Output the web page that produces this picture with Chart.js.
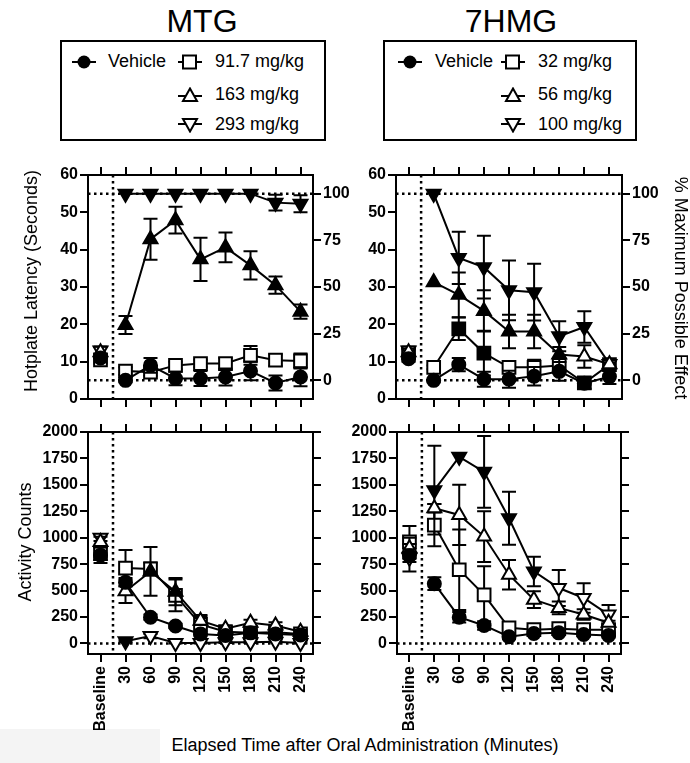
<!DOCTYPE html>
<html>
<head>
<meta charset="utf-8">
<script src="https://cdn.jsdelivr.net/npm/chart.js@4.4.1/dist/chart.umd.min.js"></script>
<style>
  body { margin: 0; background: #fff; width: 690px; height: 763px; position: relative; overflow: hidden;
         font-family: 'Liberation Sans', Arial, sans-serif; color: #000; }
  canvas { position: absolute; }
  .t { position: absolute; white-space: nowrap; }
  .title { font-size: 32px; transform: translateX(-50%); top: 3px; }
  .legend { position: absolute; border: 2px solid #000; box-sizing: border-box; top: 40px; height: 101px; }
  .lg { position: absolute; font-size: 18px; white-space: nowrap; }
  .mk { position: absolute; }
  .rot { position: absolute; font-size: 18px; white-space: nowrap; transform-origin: center center; }
</style>
</head>
<body>
<div style="position:absolute;left:0;top:729px;width:160px;height:34px;background:#f4f4f4"></div>

<div class="t title" style="left:202px">MTG</div>
<div class="t title" style="left:511px">7HMG</div>

<div class="legend" style="left:60px;width:266px">
  <svg class="mk" style="left:10px;top:12px" width="24" height="16"><line x1="0" y1="8" x2="24" y2="8" stroke="#000" stroke-width="2"/><circle cx="12" cy="8" r="6.5" fill="#000"/></svg>
  <span class="lg" style="left:46px;top:9px">Vehicle</span>
  <svg class="mk" style="left:116px;top:12px" width="24" height="16"><line x1="0" y1="8" x2="24" y2="8" stroke="#000" stroke-width="2"/><rect x="5" y="1.5" width="13" height="13" fill="#fff" stroke="#000" stroke-width="2"/></svg>
  <span class="lg" style="left:153px;top:9px">91.7 mg/kg</span>
  <svg class="mk" style="left:116px;top:45px" width="24" height="16"><line x1="0" y1="9" x2="24" y2="9" stroke="#000" stroke-width="2"/><polygon points="12,1.5 19,14 5,14" fill="#fff" stroke="#000" stroke-width="2"/></svg>
  <span class="lg" style="left:153px;top:42px">163 mg/kg</span>
  <svg class="mk" style="left:116px;top:75px" width="24" height="16"><line x1="0" y1="7" x2="24" y2="7" stroke="#000" stroke-width="2"/><polygon points="5,2 19,2 12,14.5" fill="#fff" stroke="#000" stroke-width="2"/></svg>
  <span class="lg" style="left:153px;top:72px">293 mg/kg</span>
</div>

<div class="legend" style="left:383px;width:254px">
  <svg class="mk" style="left:13px;top:12px" width="24" height="16"><line x1="0" y1="8" x2="24" y2="8" stroke="#000" stroke-width="2"/><circle cx="12" cy="8" r="6.5" fill="#000"/></svg>
  <span class="lg" style="left:50px;top:9px">Vehicle</span>
  <svg class="mk" style="left:116px;top:12px" width="24" height="16"><line x1="0" y1="8" x2="24" y2="8" stroke="#000" stroke-width="2"/><rect x="5" y="1.5" width="13" height="13" fill="#fff" stroke="#000" stroke-width="2"/></svg>
  <span class="lg" style="left:153px;top:9px">32 mg/kg</span>
  <svg class="mk" style="left:116px;top:45px" width="24" height="16"><line x1="0" y1="9" x2="24" y2="9" stroke="#000" stroke-width="2"/><polygon points="12,1.5 19,14 5,14" fill="#fff" stroke="#000" stroke-width="2"/></svg>
  <span class="lg" style="left:153px;top:42px">56 mg/kg</span>
  <svg class="mk" style="left:116px;top:75px" width="24" height="16"><line x1="0" y1="7" x2="24" y2="7" stroke="#000" stroke-width="2"/><polygon points="5,2 19,2 12,14.5" fill="#fff" stroke="#000" stroke-width="2"/></svg>
  <span class="lg" style="left:153px;top:72px">100 mg/kg</span>
</div>

<canvas id="mtgHot" width="360" height="270" style="left:0;top:150px"></canvas>
<canvas id="hmgHot" width="310" height="270" style="left:350px;top:150px"></canvas>
<canvas id="mtgAct" width="360" height="320" style="left:0;top:410px"></canvas>
<canvas id="hmgAct" width="310" height="320" style="left:350px;top:410px"></canvas>

<div class="rot" style="left:31px;top:281px;transform:translate(-50%,-50%) rotate(-90deg)">Hotplate Latency (Seconds)</div>
<div class="rot" style="left:25px;top:542px;transform:translate(-50%,-50%) rotate(-90deg)">Activity Counts</div>
<div class="rot" style="left:680px;top:288px;transform:translate(-50%,-50%) rotate(90deg)">% Maximum Possible Effect</div>
<div class="t" style="left:365px;top:745px;font-size:18px;transform:translate(-50%,-50%)">Elapsed Time after Oral Administration (Minutes)</div>

<script>
const timeLabels = ['Baseline', '30', '60', '90', '120', '150', '180', '210', '240'];
const hotTicks = [0, 10, 20, 30, 40, 50, 60];
const mpeTicks = [0, 25, 50, 75, 100];
const actTicks = [0, 250, 500, 750, 1000, 1250, 1500, 1750, 2000];

// MTG hotplate latency (s), index 0 = baseline; Sig = filled marker
const mtgHotVeh    = [11.0, 5.0, 9.0, 5.5, 5.5, 5.9, 7.5, 4.3, 5.9];
const mtgHotVehErr = [1.0, 0.5, 2.0, 1.8, 2.0, 2.3, 2.5, 2.0, 2.5];
const mtgHotVehSig = [1, 1, 1, 1, 1, 1, 1, 1, 1];
const mtgHot92     = [10.5, 7.5, 7.2, 9.0, 9.5, 9.5, 11.7, 10.4, 10.2];
const mtgHot92Err  = [1.0, 1.0, 1.0, 1.0, 1.0, 1.5, 2.5, 1.5, 2.0];
const mtgHot92Sig  = [0, 0, 0, 0, 0, 0, 0, 0, 0];
const mtgHot163    = [12.5, 19.8, 42.8, 47.9, 37.4, 40.6, 35.8, 30.5, 23.4];
const mtgHot163Err = [1.5, 2.4, 5.5, 3.6, 5.8, 4.0, 3.8, 2.3, 1.9];
const mtgHot163Sig = [0, 1, 1, 1, 1, 1, 1, 1, 1];
const mtgHot293    = [13.0, 55, 55, 55, 55, 55, 55, 52.6, 52.3];
const mtgHot293Err = [1.0, 0, 0, 0, 0, 0, 0, 2.1, 2.3];
const mtgHot293Sig = [0, 1, 1, 1, 1, 1, 1, 1, 1];

// 7HMG hotplate latency (s)
const hmgHotVeh    = [10.8, 5.0, 9.2, 5.3, 5.3, 6.1, 7.4, 4.2, 6.0];
const hmgHotVehErr = [0.8, 0.5, 1.8, 2.0, 2.3, 2.5, 2.5, 1.5, 2.0];
const hmgHotVehSig = [1, 1, 1, 1, 1, 1, 1, 1, 1];
const hmgHot32     = [12.3, 8.5, 18.8, 12.3, 8.5, 8.5, 9.0, 4.3, 9.2];
const hmgHot32Err  = [1.0, 0.5, 3.0, 6.0, 1.5, 2.0, 2.0, 1.5, 1.0];
const hmgHot32Sig  = [0, 0, 1, 1, 0, 0, 0, 0, 0];
const hmgHot56     = [12.5, 31.3, 27.9, 23.6, 18.1, 18.1, 11.9, 11.4, 9.3];
const hmgHot56Err  = [1.0, 0, 6.0, 5.5, 4.5, 4.5, 2.0, 3.0, 1.0];
const hmgHot56Sig  = [0, 1, 1, 1, 1, 1, 1, 0, 0];
const hmgHot100    = [13.0, 55, 37.8, 35.3, 29.1, 28.6, 16.8, 19.3, 9.4];
const hmgHot100Err = [1.0, 0, 7.0, 8.4, 8.0, 7.6, 4.0, 4.2, 1.0];
const hmgHot100Sig = [0, 1, 1, 1, 1, 1, 1, 1, 0];

// MTG activity counts
const mtgActVeh    = [835, 578, 248, 165, 90, 75, 100, 90, 80];
const mtgActVehErr = [75, 40, 25, 20, 15, 15, 15, 15, 10];
const mtgActVehSig = [1, 1, 1, 1, 1, 1, 1, 1, 1];
const mtgAct92     = [850, 713, 705, 455, 180, 110, 100, 105, 90];
const mtgAct92Err  = [60, 170, 60, 150, 90, 30, 30, 30, 20];
const mtgAct92Sig  = [0, 0, 0, 0, 0, 0, 0, 0, 0];
const mtgAct163    = [960, 493, 681, 490, 215, 140, 195, 170, 110];
const mtgAct163Err = [50, 110, 230, 130, 40, 30, 30, 30, 20];
const mtgAct163Sig = [0, 0, 1, 1, 0, 0, 0, 0, 0];
const mtgAct293    = [1000, 20, 70, 5, 5, 10, 10, 15, 5];
const mtgAct293Err = [30, 10, 20, 5, 5, 5, 5, 5, 5];
const mtgAct293Sig = [0, 1, 0, 0, 0, 0, 0, 0, 0];

// 7HMG activity counts
const hmgActVeh    = [830, 565, 248, 170, 63, 94, 100, 85, 75];
const hmgActVehErr = [60, 60, 50, 40, 20, 20, 20, 20, 20];
const hmgActVehSig = [1, 1, 1, 1, 1, 1, 1, 1, 1];
const hmgAct32     = [960, 1120, 697, 460, 148, 130, 140, 130, 130];
const hmgAct32Err  = [150, 200, 380, 270, 30, 25, 25, 25, 25];
const hmgAct32Sig  = [0, 0, 0, 0, 0, 0, 0, 0, 0];
const hmgAct56     = [900, 1278, 1215, 1011, 650, 414, 336, 273, 195];
const hmgAct56Err  = [100, 40, 285, 240, 140, 80, 60, 50, 20];
const hmgAct56Sig  = [0, 0, 0, 0, 0, 0, 0, 0, 0];
const hmgAct100    = [810, 1450, 1765, 1623, 1184, 681, 524, 430, 273];
const hmgAct100Err = [130, 420, 0, 340, 250, 140, 170, 140, 90];
const hmgAct100Sig = [0, 1, 1, 1, 1, 1, 0, 0, 0];

const FONT = { family: "'Liberation Sans', Arial, sans-serif", size: 16, weight: 'bold' };

const errorBars = {
    id: 'errorBars',
    beforeDatasetDraw(chart, args) {
        const ds = chart.data.datasets[args.index];
        if (!ds.errors) return;
        const ctx = chart.ctx;
        const y = chart.scales.y;
        ctx.save();
        ctx.strokeStyle = '#000';
        ctx.lineWidth = 2;
        ctx.setLineDash([]);
        args.meta.data.forEach((pt, i) => {
            const e = ds.errors[i];
            if (!e) return;
            const v = ds.data[i].y;
            const top = y.getPixelForValue(v + e);
            const bot = y.getPixelForValue(v - e);
            ctx.beginPath();
            ctx.moveTo(pt.x, top); ctx.lineTo(pt.x, bot);
            ctx.moveTo(pt.x - 7, top); ctx.lineTo(pt.x + 7, top);
            ctx.moveTo(pt.x - 7, bot); ctx.lineTo(pt.x + 7, bot);
            ctx.stroke();
        });
        ctx.restore();
    }
};

const refLines = {
    id: 'refLines',
    beforeDatasetsDraw(chart, args, opts) {
        const { ctx, chartArea: a } = chart;
        const x = chart.scales.x, y = chart.scales.y;
        ctx.save();
        ctx.setLineDash([2.5, 3.5]);
        ctx.lineWidth = 2.5;
        ctx.strokeStyle = '#000';
        (opts.yLines || []).forEach(v => {
            const py = y.getPixelForValue(v);
            ctx.beginPath(); ctx.moveTo(a.left, py); ctx.lineTo(a.right, py); ctx.stroke();
        });
        (opts.xLines || []).forEach(v => {
            const px = x.getPixelForValue(v);
            ctx.beginPath(); ctx.moveTo(px, a.top); ctx.lineTo(px, a.bottom); ctx.stroke();
        });
        ctx.restore();
    }
};

function series(values, errs, sig, shape, order) {
    const down = shape === 'down';
    return {
        data: values.map((v, i) => ({ x: i, y: v })),
        errors: errs,
        order: order,
        borderColor: '#000',
        borderWidth: 2,
        tension: 0,
        pointStyle: down ? 'triangle' : shape,
        pointRotation: down ? 180 : 0,
        pointRadius: shape === 'circle' ? 6.5 : (shape === 'rect' ? 9 : 8),
        pointBorderWidth: 2,
        pointBorderColor: '#000',
        pointBackgroundColor: sig.map(s => s ? '#000' : '#fff'),
        segment: { borderColor: c => c.p0DataIndex === 0 ? 'rgba(0,0,0,0)' : '#000' }
    };
}

const grid = { drawOnChartArea: false, drawTicks: true, tickLength: 8, color: '#000', lineWidth: 2 };
const border = { display: true, color: '#000', width: 2 };
const idxTicks = s => { s.ticks = timeLabels.map((_, i) => ({ value: i })); };

function panel(id, sets, o) {
    new Chart(document.getElementById(id), {
        type: 'line',
        data: { datasets: sets },
        plugins: [errorBars, refLines],
        options: {
            responsive: false,
            animation: false,
            devicePixelRatio: 1,
            layout: { padding: 0 },
            plugins: {
                legend: { display: false },
                tooltip: { enabled: false },
                refLines: { yLines: o.yLines, xLines: [0.5] }
            },
            scales: {
                x: {
                    type: 'linear', position: 'bottom', min: -0.5, max: 8.5,
                    afterBuildTicks: idxTicks,
                    ticks: {
                        display: o.xLabels, autoSkip: false, minRotation: 90, maxRotation: 90,
                        padding: 4, color: '#000', font: FONT,
                        callback: v => timeLabels[v]
                    },
                    grid: grid, border: border,
                    afterFit: s => { s.height = o.bottom; }
                },
                xTop: {
                    type: 'linear', position: 'top', min: -0.5, max: 8.5, display: true,
                    afterBuildTicks: idxTicks,
                    ticks: { display: false },
                    grid: grid, border: border,
                    afterFit: s => { s.height = o.top; }
                },
                y: {
                    type: 'linear', position: 'left', min: o.yMin, max: o.yMax,
                    afterBuildTicks: s => { s.ticks = o.yTicks.map(v => ({ value: v })); },
                    ticks: { padding: 2, color: '#000', font: FONT, callback: v => String(v) },
                    grid: grid, border: border,
                    afterFit: s => { s.width = o.left; }
                },
                yRight: {
                    type: 'linear', position: 'right', min: o.rMin, max: o.rMax, display: true,
                    afterBuildTicks: s => { s.ticks = o.rTicks.map(v => ({ value: v })); },
                    ticks: { display: o.rLabels, padding: 2, color: '#000', font: FONT, callback: v => String(v) },
                    grid: grid, border: border,
                    afterFit: s => { s.width = o.right; }
                }
            }
        }
    });
}

panel('mtgHot', [
    series(mtgHotVeh, mtgHotVehErr, mtgHotVehSig, 'circle', 0),
    series(mtgHot92, mtgHot92Err, mtgHot92Sig, 'rect', 3),
    series(mtgHot163, mtgHot163Err, mtgHot163Sig, 'triangle', 1),
    series(mtgHot293, mtgHot293Err, mtgHot293Sig, 'down', 2)
], { top: 25, bottom: 21, left: 88, right: 47, yMin: 0, yMax: 60, yTicks: hotTicks,
     rMin: -10, rMax: 110, rTicks: mpeTicks, rLabels: true, xLabels: false, yLines: [5, 55] });

panel('hmgHot', [
    series(hmgHotVeh, hmgHotVehErr, hmgHotVehSig, 'circle', 0),
    series(hmgHot32, hmgHot32Err, hmgHot32Sig, 'rect', 3),
    series(hmgHot56, hmgHot56Err, hmgHot56Sig, 'triangle', 1),
    series(hmgHot100, hmgHot100Err, hmgHot100Sig, 'down', 2)
], { top: 25, bottom: 21, left: 46, right: 38, yMin: 0, yMax: 60, yTicks: hotTicks,
     rMin: -10, rMax: 110, rTicks: mpeTicks, rLabels: true, xLabels: false, yLines: [5, 55] });

panel('mtgAct', [
    series(mtgActVeh, mtgActVehErr, mtgActVehSig, 'circle', 0),
    series(mtgAct92, mtgAct92Err, mtgAct92Sig, 'rect', 3),
    series(mtgAct163, mtgAct163Err, mtgAct163Sig, 'triangle', 1),
    series(mtgAct293, mtgAct293Err, mtgAct293Sig, 'down', 2)
], { top: 22, bottom: 76, left: 88, right: 47, yMin: -100, yMax: 2000, yTicks: actTicks,
     rMin: -100, rMax: 2000, rTicks: actTicks, rLabels: false, xLabels: true, yLines: [0] });

panel('hmgAct', [
    series(hmgActVeh, hmgActVehErr, hmgActVehSig, 'circle', 0),
    series(hmgAct32, hmgAct32Err, hmgAct32Sig, 'rect', 3),
    series(hmgAct56, hmgAct56Err, hmgAct56Sig, 'triangle', 1),
    series(hmgAct100, hmgAct100Err, hmgAct100Sig, 'down', 2)
], { top: 22, bottom: 76, left: 47, right: 39, yMin: -100, yMax: 2000, yTicks: actTicks,
     rMin: -100, rMax: 2000, rTicks: actTicks, rLabels: false, xLabels: true, yLines: [0] });
</script>
</body>
</html>
